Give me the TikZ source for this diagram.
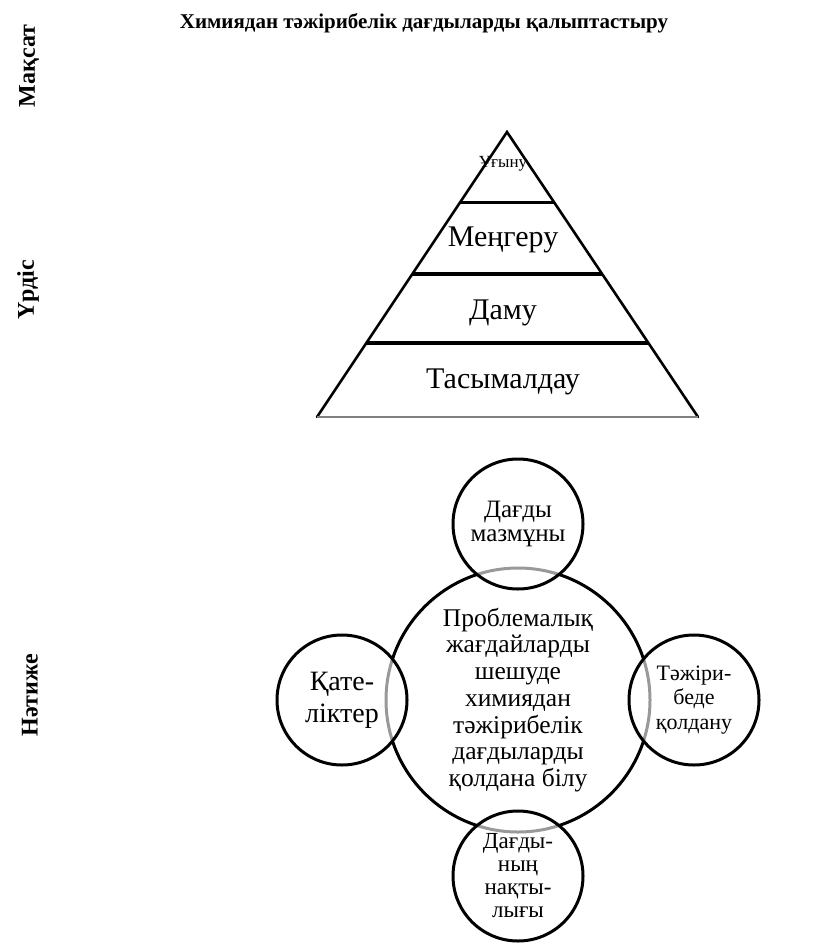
\documentclass[tikz,border=0pt]{standalone}
\usepackage{fontspec}
\setmainfont{Liberation Serif}
\usetikzlibrary{calc,positioning}
\tikzset{
mycircle/.style={
  circle,
  line width=3pt,
  inner sep=0pt,
  align=center,
  draw=black,
  fill=white,
  fill opacity=0.6,
  text opacity=1,
  minimum size=130pt,
  font=\fontsize{25}{24}\selectfont,
  }
}
\tikzset{
myline/.style={
  line width=2.6pt,
  line cap=round,
  }
}
\tikzset{
mylevel/.style={font=\fontsize{30}{32}\selectfont},
myside/.style={rotate=90, font=\bfseries\fontsize{24}{26}\selectfont}
}

\begin{document}
\begin{tikzpicture}[x=1pt,y=-1pt]
    \useasboundingbox (0,0) rectangle (825,944);

    % title and side labels
    \node[font=\bfseries\fontsize{21}{24}\selectfont] (title) at (424,23) {Химиядан тәжірибелік дағдыларды қалыптастыру};
    \node[myside] (aim) at (29,66) {Мақсат};
    \node[myside] (process) at (28,290) {Үрдіс};
    \node[myside] (result) at (30,695) {Нәтиже};

    % pyramid part
    \coordinate (apex) at (507,132);
    \coordinate (base_l) at (317,417);
    \coordinate (base_r) at (698,417);
    \draw[myline] (base_l) -- (apex) -- (base_r);
    \draw[line width=1.4pt, gray] (base_l) -- (base_r);
    \foreach \t in {0.246,0.498,0.74}
        \draw[myline, line width=3.2pt, line cap=butt] ($(apex)!\t!(base_l)$) -- ($(apex)!\t!(base_r)$);
    \node[font=\fontsize{17}{18}\selectfont] (lvl1) at (503,164) {Ұғыну};
    \node[mylevel] (lvl2) at (503,240) {Меңгеру};
    \node[mylevel] (lvl3) at (503,313) {Даму};
    \node[mylevel] (lvl4) at (503,382) {Тасымалдау};

    % circles part
    \begin{scope}[node distance=-24pt]
    \node[mycircle, minimum size=264pt, font=\fontsize{25.5}{26.7}\selectfont] (skill) at (518,700)
        {Проблемалық\\жағдайларды\\шешуде\\химиядан\\тәжірибелік\\дағдыларды\\қолдана білу};
    \node[mycircle, above=of skill] (content) {Дағды\\мазмұны};
    \node[mycircle, left=of skill, font=\fontsize{28}{32}\selectfont] (errors) {Қате-\\ліктер};
    \node[mycircle, right=of skill, font=\fontsize{22}{24.5}\selectfont] (practice) {Тәжіри-\\беде\\қолдану};
    \node[mycircle, below=of skill, font=\fontsize{23}{23}\selectfont] (accuracy) {Дағды-\\ның\\нақты-\\лығы};
    \end{scope}
\end{tikzpicture}
\end{document}
